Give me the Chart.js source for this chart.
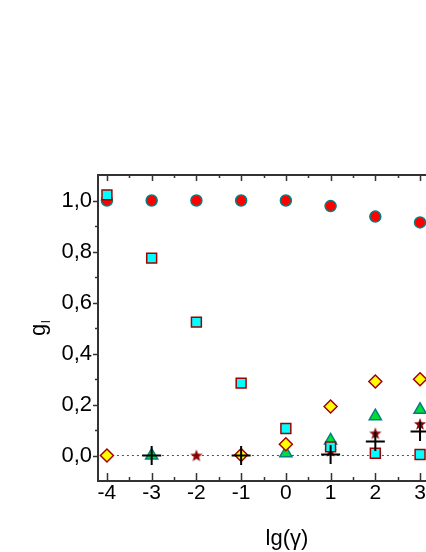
<!DOCTYPE html>
<html>
<head>
<meta charset="utf-8">
<script src="https://cdn.jsdelivr.net/npm/chart.js@4"></script>
<style>
  html, body { margin: 0; padding: 0; background: #fff; overflow: hidden; }
  #wrap { width: 460px; height: 552px; }
</style>
</head>
<body>
<div id="wrap"><canvas id="grafico" width="460" height="552"></canvas></div>
<script>
// lg(gamma) positions
const lgGamma = [-4, -3, -2, -1, 0, 1, 2, 3];

// g_l values (null = no point drawn)
const gCirculo   = [1.0, 1.0, 1.0, 1.0, 1.0, 0.978, 0.937, 0.914];
const gQuadrado  = [1.022, 0.774, 0.523, 0.284, 0.106, 0.034, 0.009, 0.004];
const gLosango   = [0.0, null, null, 0.002, 0.044, 0.192, 0.29, 0.299];
const gTriangulo = [null, 0.0, null, null, 0.009, 0.059, 0.154, 0.179];
const gEstrela   = [null, null, 0.0, null, null, 0.018, 0.087, 0.124];
const gCruz      = [null, 0.0, null, 0.0, null, 0.004, 0.055, 0.094];

const linhaZero = [{x: -4, y: 0}, {x: 3, y: 0}];

const xTicks = [-4, -3, -2, -1, 0, 1, 2, 3];
const xMinor = [-3.5, -2.5, -1.5, -0.5, 0.5, 1.5, 2.5];
const yTicks = [0, 0.2, 0.4, 0.6, 0.8, 1.0];
const yMinor = [0.1, 0.3, 0.5, 0.7, 0.9];

function pontos(valores) {
  const out = [];
  valores.forEach((v, i) => { if (v !== null) out.push({x: lgGamma[i], y: v}); });
  return out;
}

// filled five-point star marker
function fazEstrela() {
  const c = document.createElement('canvas');
  c.width = 14; c.height = 14;
  const ctx = c.getContext('2d');
  ctx.beginPath();
  for (let i = 0; i < 10; i++) {
    const r = i % 2 === 0 ? 6.5 : 2.7;
    const a = -Math.PI / 2 + i * Math.PI / 5;
    const px = 7 + r * Math.cos(a), py = 7.5 + r * Math.sin(a);
    if (i === 0) ctx.moveTo(px, py); else ctx.lineTo(px, py);
  }
  ctx.closePath();
  ctx.fillStyle = '#8b0000';
  ctx.fill();
  return c;
}

const corEixo = '#333333';

const eixosPlugin = {
  id: 'eixos',
  afterDraw(chart) {
    const ctx = chart.ctx;
    const a = chart.chartArea;
    const sx = chart.scales.x, sy = chart.scales.y;
    ctx.save();
    ctx.strokeStyle = corEixo;
    ctx.lineWidth = 1.5;
    ctx.beginPath();
    xTicks.forEach(v => {
      const px = Math.round(sx.getPixelForValue(v)) + 0.5;
      ctx.moveTo(px, a.bottom); ctx.lineTo(px, a.bottom - 8);
      ctx.moveTo(px, a.top); ctx.lineTo(px, a.top + 6);
    });
    xMinor.forEach(v => {
      const px = Math.round(sx.getPixelForValue(v)) + 0.5;
      ctx.moveTo(px, a.bottom); ctx.lineTo(px, a.bottom - 4);
      ctx.moveTo(px, a.top); ctx.lineTo(px, a.top + 3);
    });
    yTicks.forEach(v => {
      const py = Math.round(sy.getPixelForValue(v)) + 0.5;
      ctx.moveTo(a.left, py); ctx.lineTo(a.left - 5, py);
    });
    yMinor.forEach(v => {
      const py = Math.round(sy.getPixelForValue(v)) + 0.5;
      ctx.moveTo(a.left, py); ctx.lineTo(a.left - 3, py);
    });
    ctx.stroke();
    ctx.lineWidth = 2;
    ctx.strokeRect(a.left, a.top, a.right - a.left, a.bottom - a.top);

    // axis titles
    ctx.fillStyle = '#000';
    ctx.font = '22px "Liberation Sans", Arial, sans-serif';
    ctx.textAlign = 'center';
    ctx.textBaseline = 'alphabetic';
    ctx.fillText('lg(\u03b3)', 287, 545);

    ctx.translate(45, (a.top + a.bottom) / 2);
    ctx.rotate(-Math.PI / 2);
    ctx.textAlign = 'left';
    ctx.font = '22px "Liberation Sans", Arial, sans-serif';
    const wg = ctx.measureText('g').width;
    ctx.fillText('g', -wg / 2 - 2, 0);
    ctx.font = '12px "Liberation Sans", Arial, sans-serif';
    ctx.fillText('l', wg / 2 - 1, 5);
    ctx.restore();
  }
};

const fonteTick = {family: '"Liberation Sans", Arial, sans-serif', size: 21};

new Chart(document.getElementById('grafico'), {
  type: 'scatter',
  data: {
    datasets: [
      {label: 'cruz', data: pontos(gCruz), pointStyle: 'cross', pointRadius: 9.5,
        borderColor: '#000', pointBorderWidth: 2},
      {label: 'quadrado', data: pontos(gQuadrado), pointStyle: 'rect', pointRadius: 7,
        backgroundColor: '#00ffff', borderColor: '#a00000', pointBorderWidth: 1.5},
      {label: 'estrela', data: pontos(gEstrela), pointStyle: fazEstrela(), pointRadius: 7},
      {label: 'losango', data: pontos(gLosango), pointStyle: 'rectRot', pointRadius: 6.5,
        backgroundColor: '#ffff00', borderColor: '#a00000', pointBorderWidth: 1.5},
      {label: 'triangulo', data: pontos(gTriangulo), pointStyle: 'triangle', pointRadius: 7,
        backgroundColor: '#00dd33', borderColor: '#008080', pointBorderWidth: 1.5},
      {label: 'circulo', data: pontos(gCirculo), pointStyle: 'circle', pointRadius: 5.5,
        backgroundColor: '#ff0000', borderColor: '#008080', pointBorderWidth: 1.5},
      {type: 'line', label: 'zero', data: linhaZero, borderColor: '#cc2020', borderWidth: 1,
        borderDash: [2, 3], pointRadius: 0, fill: false}
    ]
  },
  options: {
    responsive: false,
    animation: false,
    layout: {padding: {left: 0, top: 175, right: 31, bottom: 0}},
    plugins: {legend: {display: false}, tooltip: {enabled: false}},
    scales: {
      x: {
        type: 'linear', min: -4.2, max: 3.2,
        afterBuildTicks: s => { s.ticks = xTicks.map(v => ({value: v})); },
        afterFit: s => { s.height = 71; },
        grid: {display: false, drawTicks: false},
        border: {display: false},
        ticks: {color: '#000', font: fonteTick, padding: 0, maxRotation: 0}
      },
      y: {
        type: 'linear', min: -0.1, max: 1.1,
        afterBuildTicks: s => { s.ticks = yTicks.map(v => ({value: v})); },
        afterFit: s => { s.width = 98; },
        grid: {display: false, drawTicks: false},
        border: {display: false},
        ticks: {color: '#000', font: {family: fonteTick.family, size: 22}, padding: 6,
          callback: v => v.toFixed(1).replace('.', ',')}
      }
    }
  },
  plugins: [eixosPlugin]
});
</script>
</body>
</html>
